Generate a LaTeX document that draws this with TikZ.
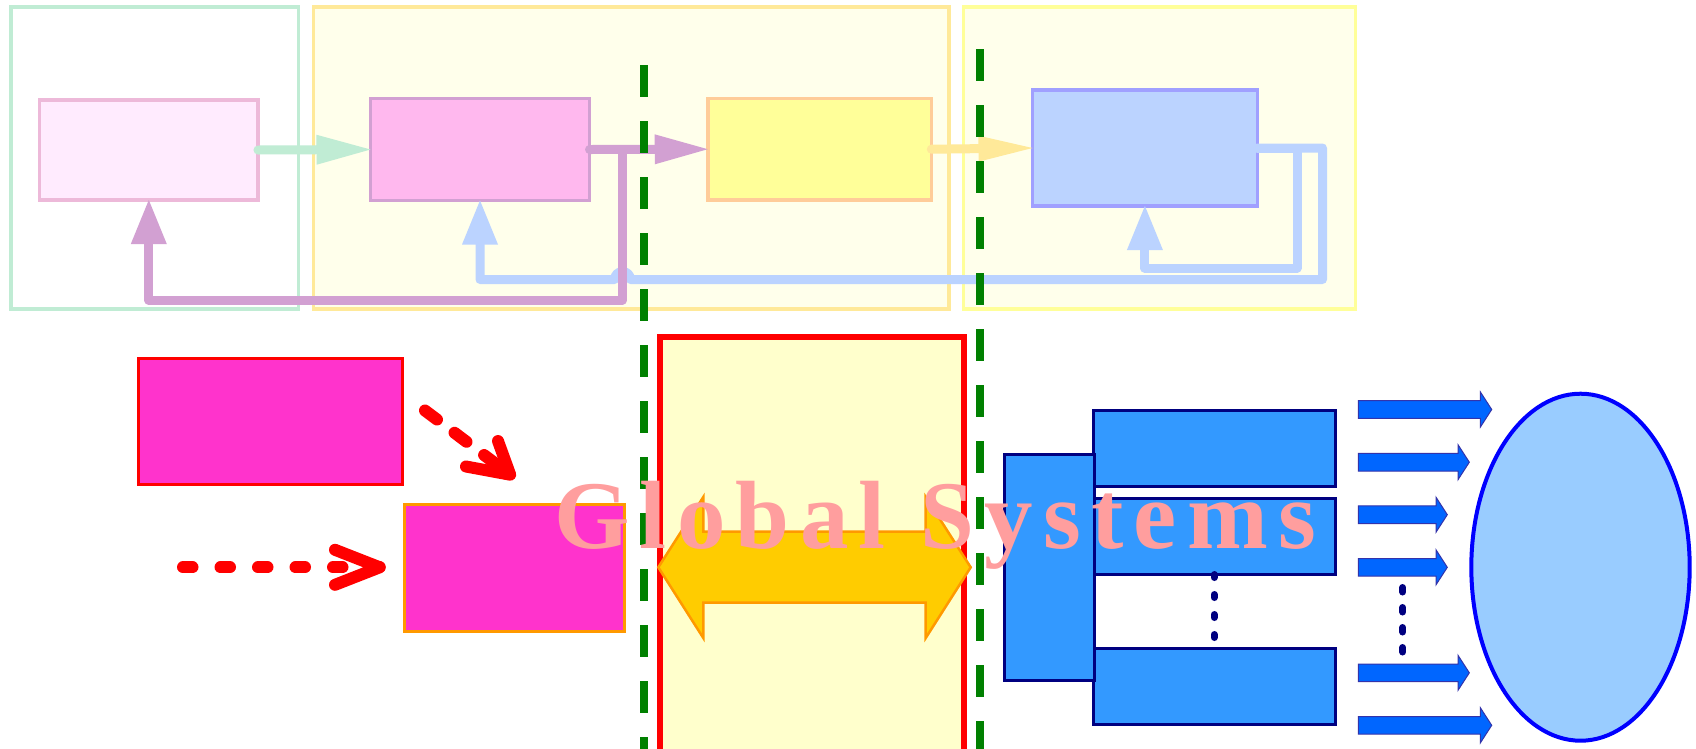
\documentclass[tikz,border=0pt]{standalone}
\usepackage{fontspec}
\newfontfamily\bannerfont[LetterSpace=10.6]{Liberation Serif Bold}
\usetikzlibrary{arrows.meta,shapes.geometric}

\definecolor{mint}{HTML}{C0ECD4}
\definecolor{paleamber}{HTML}{FFE999}
\definecolor{lemon}{HTML}{FFFF99}
\definecolor{cream}{HTML}{FFFFEB}
\definecolor{blushfill}{HTML}{FFEBFE}
\definecolor{blushline}{HTML}{EDB9D9}
\definecolor{pinkfill}{HTML}{FFB8EE}
\definecolor{orchid}{HTML}{D2A0D2}
\definecolor{canary}{HTML}{FFFF99}
\definecolor{peach}{HTML}{FFCC99}
\definecolor{periwinkle}{HTML}{BBD3FF}
\definecolor{lilac}{HTML}{A0A0FF}
\definecolor{divgreen}{HTML}{008000}
\definecolor{magentabox}{HTML}{FF33CC}
\definecolor{amber}{HTML}{FF9900}
\definecolor{goldfill}{HTML}{FFCC00}
\definecolor{paleyellow}{HTML}{FFFFCC}
\definecolor{modblue}{HTML}{3399FF}
\definecolor{navy}{HTML}{000080}
\definecolor{arrblue}{HTML}{0066FF}
\definecolor{arrline}{HTML}{3333AA}
\definecolor{lightsky}{HTML}{99CCFF}
\definecolor{rose}{HTML}{FF9E9E}

\tikzset{
  panel/.style={rectangle, draw, line width=3.5pt, inner sep=0pt, outer sep=0pt},
  flowbox/.style={rectangle, draw, line width=3.5pt, inner sep=0pt, outer sep=0pt},
  feed/.style={line width=9pt, line cap=round, line join=round},
  fwdtip/.style={-{Triangle[length=54pt,width=30pt,line width=0pt]}},
  uptip/.style={-{Triangle[length=44pt,width=36pt,line width=0pt]}},
  boundary/.style={draw=divgreen, line width=8pt, dash pattern=on 32pt off 24pt},
  hint/.style={draw=red, line width=12pt, line cap=round, line join=round},
  srcbox/.style={rectangle, fill=magentabox, line width=3pt, inner sep=0pt, outer sep=0pt},
  module/.style={rectangle, fill=modblue, draw=navy, line width=3pt, inner sep=0pt, outer sep=0pt},
  flowarrow/.style={fill=arrblue, draw=arrline, line width=1pt, line join=miter},
  ellipsis/.style={draw=navy, line width=7pt, line cap=round}
}

\begin{document}
\begin{tikzpicture}[x=1pt,y=-1pt]
\useasboundingbox (0,0) rectangle (1696,748);
\fill[white] (0,0) rectangle (1696,748);
\clip (0,0) rectangle (1696,748);

% ---- upper row: grouping panels
\node[panel, draw=mint, fill=white, minimum width=287.5pt, minimum height=302pt] (grp1) at (154.5,157.9) {};
\node[panel, draw=paleamber, fill=cream, minimum width=635.7pt, minimum height=302pt] (grp2) at (631.1,157.9) {};
\node[panel, draw=lemon, fill=cream, minimum width=392.1pt, minimum height=302pt] (grp3) at (1159.5,157.9) {};

% ---- upper row: stages
\node[flowbox, draw=blushline, fill=blushfill, minimum width=218.3pt, minimum height=100pt] (A) at (148.8,150) {};
\node[flowbox, draw=orchid, fill=pinkfill, minimum width=219pt, minimum height=102pt] (B) at (480,149.5) {};
\node[flowbox, draw=peach, fill=canary, minimum width=223.5pt, minimum height=101.5pt] (C) at (819.5,149.2) {};
\node[flowbox, draw=lilac, fill=periwinkle, minimum width=224.8pt, minimum height=116pt] (D) at (1144.9,148) {};

% ---- upper row: forward links
\draw[feed, draw=mint, fwdtip] (A.east) -- (B.west);
\draw[feed, draw=orchid, -{Triangle[length=53pt,width=30pt,line width=0pt]}] (B.east) -- (C.west);
\draw[feed, draw=paleamber, -{Triangle[length=54pt,width=26pt,line width=0pt]}] (C.east) -- (D.west);

% ---- upper row: feedback loops
\coordinate (loopR) at (1322.5,279.5);
\coordinate (jumpR) at (630.5,279.5);
\coordinate (loopI) at (1297,268);
\draw[feed, draw=periwinkle, uptip] (D.east) -| (loopR) -- (jumpR)
  arc[start angle=0, end angle=-180, radius=8] -| (B.south);
\draw[feed, draw=periwinkle, uptip] (D.east) -| (loopI) -| (D.south);

\coordinate (split) at (622.5,149.5);
\coordinate (fbO) at (622.5,300);
\draw[feed, draw=orchid, uptip] (split) -- (fbO) -| (A.south);

% ---- dividing lines
\draw[boundary] (644,65) -- (644,760);
\draw[boundary] (980,49) -- (980,760);

% ---- lower left: sources
\node[srcbox, draw=red, minimum width=264pt, minimum height=125.7pt] (m1) at (270.5,421.3) {};
\node[srcbox, draw=amber, minimum width=220pt, minimum height=126.5pt] (m2) at (514.5,567.75) {};

% dashed hints with open chevron heads
\coordinate (h0) at (183,567.3);
\coordinate (h1) at (379.7,567.3);
\coordinate (hb1) at (335,549.8);
\coordinate (hb2) at (335,584.8);
\draw[hint, dash pattern=on 9.5pt off 28pt] (h0) -- (h1);
\draw[hint] (hb1) -- (h1) -- (hb2);

\coordinate (d0) at (425,410.5);
\coordinate (d1) at (510.2,474.7);
\coordinate (db1) at (466,466.5);
\coordinate (db2) at (498,441);
\draw[hint, dash pattern=on 15pt off 22pt] (d0) -- (d1);
\draw[hint] (db1) -- (d1) -- (db2);

% ---- central exchange
\node[rectangle, draw=red, fill=paleyellow, line width=6pt, inner sep=0pt, outer sep=0pt,
      minimum width=303.4pt, minimum height=463pt, anchor=north] (hub) at (812,337.3) {};
\draw[draw=amber, fill=goldfill, line width=2.5pt, line join=miter]
  (658.3,567.3) -- (703.3,497) -- (703.3,531.7) -- (925.7,531.7) -- (925.7,497)
  -- (970.7,567.3) -- (925.7,638) -- (925.7,602.7) -- (703.3,602.7) -- (703.3,638) -- cycle;

% ---- lower right: modules
\node[module, minimum width=242pt, minimum height=76pt] (R1) at (1214.2,448.8) {};
\node[module, minimum width=242pt, minimum height=76.3pt] (R2) at (1214.2,536.35) {};
\node[module, minimum width=242pt, minimum height=76.3pt] (R3) at (1214.2,686.35) {};
\node[module, minimum width=90pt, minimum height=225.4pt] (T) at (1049.2,567.5) {};
\draw[ellipsis, dash pattern=on 3pt off 17pt] (R2.south) -- (R3.north);

% ---- outgoing block arrows
\foreach \yy/\tip in {409.5/1491.7, 462.2/1469.3, 514.7/1447.3, 567.3/1447.3, 672.8/1469.3, 725.3/1491.7}{
  \draw[flowarrow] (1358.3,\yy-8.8) -- (\tip-11.3,\yy-8.8) -- (\tip-11.3,\yy-17.5) -- (\tip,\yy)
    -- (\tip-11.3,\yy+17.5) -- (\tip-11.3,\yy+8.8) -- (1358.3,\yy+8.8) -- cycle;
}
\draw[ellipsis, dash pattern=on 4.5pt off 15.5pt] (1402.7,587.5) -- (1402.7,652);

% ---- sink
\node[ellipse, draw=blue, fill=lightsky, line width=4pt, inner sep=0pt,
      minimum width=218.4pt, minimum height=347pt] (sink) at (1580.5,567.2) {};

% ---- banner
\node[anchor=base west, inner sep=0pt, text=rose,
      font=\bannerfont\fontsize{97}{97}\selectfont] (title) at (554,548) {Global Systems};
\end{tikzpicture}
\end{document}
